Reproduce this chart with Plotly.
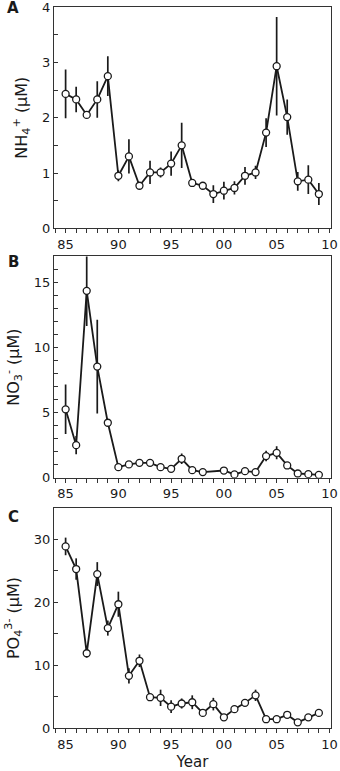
import plotly.graph_objects as go

# ── data ───────────────────────────────────────────────────────────────────────
years = list(range(1985, 2010))

nh4 = [2.43, 2.33, 2.05, 2.33, 2.75, 0.95, 1.30, 0.77, 1.01, 1.01,
       1.17, 1.50, 0.82, 0.77, 0.62, 0.68, 0.73, 0.95, 1.01, 1.73,
       2.93, 2.01, 0.85, 0.88, 0.62]
nh4_err = [0.44, 0.23, 0.0, 0.33, 0.36, 0.10, 0.31, 0.0, 0.21, 0.09,
           0.22, 0.41, 0.05, 0.0, 0.16, 0.16, 0.12, 0.16, 0.12, 0.26,
           0.89, 0.32, 0.17, 0.26, 0.20]

no3_years = [y for y in years if y != 1999]
no3 = [5.26, 2.51, 14.36, 8.54, 4.23, 0.82, 1.03, 1.15, 1.15, 0.82,
       0.69, 1.46, 0.59, 0.44, 0.56, 0.26, 0.51, 0.44, 1.67,
       1.92, 0.95, 0.33, 0.28, 0.23]
no3_err = [1.9, 0.7, 2.7, 3.6, 0.0, 0.0, 0.0, 0.0, 0.0, 0.0,
           0.0, 0.4, 0.0, 0.0, 0.0, 0.0, 0.0, 0.0, 0.4,
           0.5, 0.0, 0.0, 0.0, 0.0]

po4 = [28.9, 25.3, 11.9, 24.5, 15.9, 19.7, 8.3, 10.7, 4.9, 4.8,
       3.4, 3.9, 4.1, 2.4, 3.8, 1.7, 3.0, 4.0, 5.2, 1.4,
       1.4, 2.1, 0.9, 1.7, 2.4]
po4_err = [1.4, 1.7, 0.7, 1.9, 1.2, 2.0, 1.2, 1.0, 0.0, 1.3,
           1.0, 0.8, 1.1, 0.0, 1.0, 0.0, 0.5, 0.3, 0.9, 0.0,
           0.0, 0.0, 0.0, 0.0, 0.0]

x_tickvals = [1985, 1990, 1995, 2000, 2005, 2010]
x_ticktext = ["85", "90", "95", "00", "05", "10"]

# ── style ──────────────────────────────────────────────────────────────────────
FONT = "DejaVu Sans"
C_INK = "#1a1a1a"
C_FRAME = "#333333"

panels = [
    # (years, values, errors, y-range, dtick, minor dtick, title, label)
    (years, nh4, nh4_err, [0, 4], 1, 0.5,
     "NH<sub>4</sub><sup>+</sup> (µM)", "A"),
    (no3_years, no3, no3_err, [0, 17], 5, 1,
     "NO<sub>3</sub><sup>-</sup> (µM)", "B"),
    (years, po4, po4_err, [0, 35], 10, 5,
     "PO<sub>4</sub><sup>3-</sup> (µM)", "C"),
]
domains = [[0.693, 1.0], [0.347, 0.654], [0.0, 0.305]]
label_y = [0.999, 0.647, 0.292]   # panel letters, paper coords

fig = go.Figure()

for i, (xs, ys, es, yr, dt, mdt, ytitle, label) in enumerate(panels):
    n = i + 1
    xa = "x" if n == 1 else f"x{n}"
    ya = "y" if n == 1 else f"y{n}"
    fig.add_trace(go.Scatter(
        x=xs, y=ys, mode="lines+markers",
        xaxis=xa, yaxis=ya,
        line=dict(color=C_INK, width=1.8),
        marker=dict(symbol="circle", size=7, color="white",
                    line=dict(color=C_INK, width=1.3)),
        error_y=dict(type="data", array=es, visible=True,
                     color=C_INK, thickness=1.7, width=0),
        showlegend=False,
    ))

    fig.layout[f"xaxis{'' if n == 1 else n}"] = dict(
        domain=[0, 1], anchor=ya, range=[1983.9, 2010.15],
        tickvals=x_tickvals, ticktext=x_ticktext,
        ticks="outside", ticklen=4, tickcolor=C_FRAME,
        minor=dict(dtick=1, ticks="outside", ticklen=4, tickcolor=C_FRAME),
        showline=True, linecolor=C_FRAME, linewidth=1, mirror=True,
        showgrid=False, zeroline=False, automargin=False,
        ticklabeloverflow="allow",
        tickfont=dict(family=FONT, size=13, color=C_INK),
        title=dict(text="Year" if n == 3 else None,
                   font=dict(family=FONT, size=15, color=C_INK), standoff=6),
    )
    fig.layout[f"yaxis{'' if n == 1 else n}"] = dict(
        domain=domains[i], anchor=xa, range=yr,
        dtick=dt, tick0=0,
        ticks="inside", ticklen=4, tickcolor=C_FRAME,
        minor=dict(dtick=mdt, ticks="inside", ticklen=4, tickcolor=C_FRAME),
        showline=True, linecolor=C_FRAME, linewidth=1, mirror=True,
        showgrid=False, zeroline=False, automargin=False,
        ticklabeloverflow="allow",
        tickfont=dict(family=FONT, size=13, color=C_INK),
        title=dict(text=ytitle, font=dict(family=FONT, size=16, color=C_INK),
                   standoff=10),
    )

    fig.add_annotation(
        x=0.0, y=label_y[i], xref="paper", yref="paper",
        xshift=-41,
        text=f"<b>{label}</b>", showarrow=False,
        font=dict(family=FONT, size=15, color=C_INK),
        xanchor="center", yanchor="middle",
    )

fig.update_layout(
    width=340, height=771,
    margin=dict(l=54, r=9, t=7, b=43, autoexpand=False),
    paper_bgcolor="white", plot_bgcolor="white",
    font=dict(family=FONT, color=C_INK),
)

fig.write_html("out.html", config={"displayModeBar": False},
               post_script="document.body.style.margin='0';"
                           "document.body.style.overflow='hidden';")
